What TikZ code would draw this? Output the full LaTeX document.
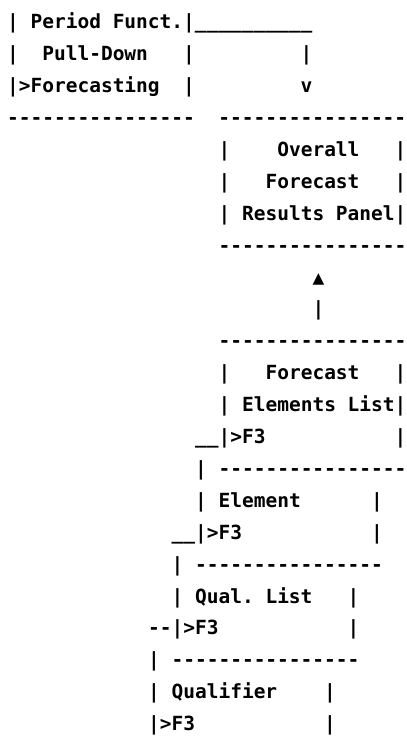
\documentclass[tikz,border=0pt]{standalone}
\usepackage{fontspec}
\setmonofont{DejaVu Sans Mono}
\tikzset{asc/.style={anchor=base west, inner sep=0pt, outer sep=0pt,
  font=\ttfamily\bfseries\fontsize{19.5}{20}\selectfont\frenchspacing}}
\newcommand{\asciiline}[4]{\node[asc] (#1) at ({7.1+11.75*#2},{-(28.8+31.9*#3)}) {#4};}
\begin{document}
\begin{tikzpicture}[x=1pt,y=1pt]
\useasboundingbox (0,0) rectangle (407,-756);
\asciiline{l0}{0}{0}{|~Period~Funct.|\_\_\_\_\_\_\_\_\_\_}
\asciiline{l1}{0}{1}{|~~Pull-Down~~~|~~~~~~~~~|}
\asciiline{l2}{0}{2}{|>Forecasting~~|~~~~~~~~~v}
\asciiline{l3}{0}{3}{----------------~~----------------}
\asciiline{l4}{18}{4}{|~~~~Overall~~~|}
\asciiline{l5}{18}{5}{|~~~Forecast~~~|}
\asciiline{l6}{18}{6}{|~Results~Panel|}
\asciiline{l7}{18}{7}{----------------}
\asciiline{l8}{26}{8}{▲}
\asciiline{l9}{26}{9}{|}
\asciiline{l10}{18}{10}{----------------}
\asciiline{l11}{18}{11}{|~~~Forecast~~~|}
\asciiline{l12}{18}{12}{|~Elements~List|}
\asciiline{l13}{16}{13}{\_\_|>F3~~~~~~~~~~~|}
\asciiline{l14}{16}{14}{|~----------------}
\asciiline{l15}{16}{15}{|~Element~~~~~~|}
\asciiline{l16}{14}{16}{\_\_|>F3~~~~~~~~~~~|}
\asciiline{l17}{14}{17}{|~----------------}
\asciiline{l18}{14}{18}{|~Qual.~List~~~|}
\asciiline{l19}{12}{19}{--|>F3~~~~~~~~~~~|}
\asciiline{l20}{12}{20}{|~----------------}
\asciiline{l21}{12}{21}{|~Qualifier~~~~|}
\asciiline{l22}{12}{22}{|>F3~~~~~~~~~~~|}
\end{tikzpicture}
\end{document}
